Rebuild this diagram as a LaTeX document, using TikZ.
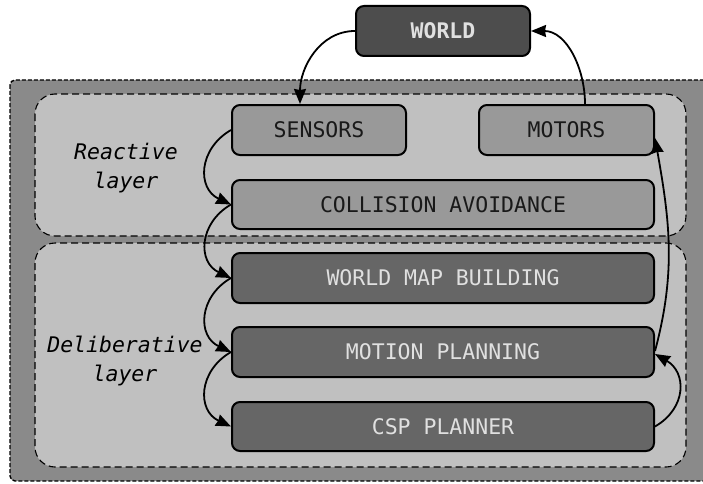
\documentclass[tikz,border=0pt]{standalone}
\usepackage{fontspec}
\setmonofont{DejaVu Sans Mono}
\usetikzlibrary{arrows.meta}
\definecolor{outerfill}{HTML}{8A8A8A}
\definecolor{layerfill}{HTML}{C0C0C0}
\definecolor{lightnode}{HTML}{999999}
\definecolor{darknode}{HTML}{666666}
\definecolor{worldnode}{HTML}{4D4D4D}
\definecolor{lighttext}{HTML}{E0E0E0}
\tikzset{
  box/.style={draw=black, line width=2pt, rounded corners=8pt, minimum height=50pt,
    font=\fontsize{21.5}{24}\ttfamily, inner sep=0pt},
  lightbox/.style={box, fill=lightnode, text=black!90},
  darkbox/.style={box, fill=darknode, text=lighttext},
  worldbox/.style={box, fill=worldnode, text=lighttext, font=\fontsize{21.5}{24}\ttfamily\bfseries},
  layerbox/.style={draw=black, line width=1.1pt, dash pattern=on 7pt off 4pt, rounded corners=20pt, fill=layerfill},
  outerbox/.style={draw=black, line width=1.4pt, dash pattern=on 4pt off 2pt, rounded corners=5pt, fill=outerfill},
  conn/.style={line width=1.8pt, -{Stealth[length=15pt,width=12pt,inset=1pt]}},
  layerlabel/.style={font=\fontsize{21.5}{29}\ttfamily\itshape, align=center, text=black}
}
\begin{document}
\begin{tikzpicture}[x=1pt,y=1pt]
\useasboundingbox (0,0) rectangle (703,483);
\clip (0,0) rectangle (703,483);
\draw[outerbox] (10,403) rectangle (730,2);
\draw[layerbox] (35,389) rectangle (686,247);
\draw[layerbox] (35,240) rectangle (686,16);
\node[layerlabel] (rl) at (126,315) {Reactive\\layer};
\node[layerlabel] (dl) at (125,122) {Deliberative\\layer};
\node[worldbox, minimum width=174pt] (world) at (443,452) {WORLD};
\node[lightbox, minimum width=174pt] (sens) at (319,353) {SENSORS};
\node[lightbox, minimum width=175pt] (mot) at (566.5,353) {MOTORS};
\node[lightbox, minimum width=422pt, minimum height=49pt] (coll) at (443,278.5) {COLLISION AVOIDANCE};
\node[darkbox, minimum width=422pt] (wmb) at (443,205) {WORLD MAP BUILDING};
\node[darkbox, minimum width=422pt] (mp) at (443,131) {MOTION PLANNING};
\node[darkbox, minimum width=422pt, minimum height=49pt] (csp) at (443,56.5) {CSP PLANNER};
\draw[conn] (world.west) to[out=180,in=90] ([xshift=-19pt]sens.north);
\draw[conn] ([xshift=18.5pt]mot.north) to[out=90,in=0] (world.east);
\draw[conn] (sens.west) to[out=210,in=155,looseness=1.3] (coll.west);
\draw[conn] (coll.west) to[out=210,in=155,looseness=1.3] (wmb.west);
\draw[conn] (wmb.west) to[out=210,in=155,looseness=1.3] (mp.west);
\draw[conn] (mp.west) to[out=210,in=155,looseness=1.3] (csp.west);
\draw[conn] (csp.east) to[out=30,in=-30,looseness=1.3] ([yshift=-2pt]mp.east);
\draw[conn] ([yshift=1pt]mp.east) to[out=75,in=-80] ([yshift=-8pt]mot.east);
\end{tikzpicture}
\end{document}
